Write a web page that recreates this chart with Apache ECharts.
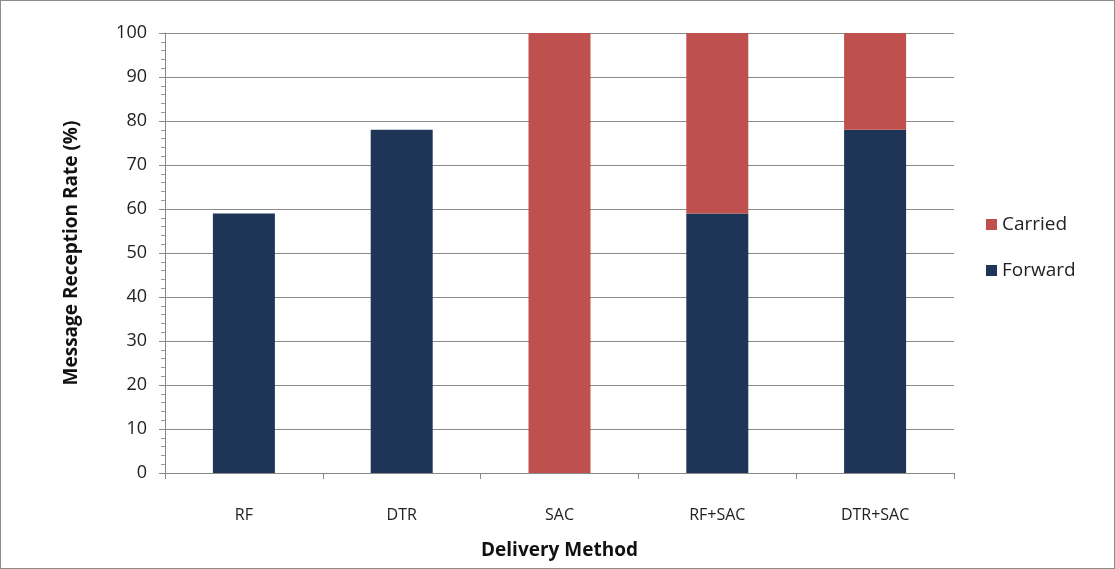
<!DOCTYPE html>
<html>
<head>
<meta charset="utf-8">
<script src="https://cdn.jsdelivr.net/npm/echarts@6/dist/echarts.min.js"></script>
<style>
  html, body { margin: 0; padding: 0; background: #fff; }
  #chart { width: 1115px; height: 569px; box-sizing: border-box; border: 1px solid #8c8c8c; }
</style>
</head>
<body>
<div id="chart"></div>
<script>
const categories = ["RF", "DTR", "SAC", "RF+SAC", "DTR+SAC"];
const forward = [59, 78, 0, 59, 78];
const carried = [0, 0, 100, 41, 22];
const yTicks = [0, 100, 10];

const chart = echarts.init(document.getElementById("chart"));
const font = "'Open Sans', 'Liberation Sans', sans-serif";
chart.setOption({
  animation: false,
  textStyle: { fontFamily: font },
  grid: { left: 164, right: 160, top: 32, bottom: 95 },
  legend: {
    orient: "vertical",
    left: 980,
    top: 209,
    itemGap: 27,
    itemWidth: 11,
    itemHeight: 11,
    icon: "rect",
    data: ["Carried", "Forward"],
    textStyle: { fontSize: 19, color: "#222", fontFamily: font }
  },
  xAxis: {
    type: "category",
    data: categories,
    name: "Delivery Method",
    nameLocation: "middle",
    nameGap: 68,
    nameTextStyle: { fontSize: 19, fontWeight: "bold", color: "#111" },
    axisLine: { lineStyle: { color: "#888" } },
    axisTick: { show: true, length: 6, lineStyle: { color: "#888" } },
    axisLabel: { fontSize: 16, color: "#222", margin: 34 }
  },
  yAxis: {
    type: "value",
    min: yTicks[0],
    max: yTicks[1],
    interval: yTicks[2],
    name: "Message Reception Rate (%)",
    nameLocation: "middle",
    nameGap: 84,
    nameTextStyle: { fontSize: 19, fontWeight: "bold", color: "#111" },
    axisLine: { show: true, lineStyle: { color: "#888" } },
    axisTick: { show: true, length: 6, lineStyle: { color: "#888" } },
    minorTick: { show: true, splitNumber: 5, length: 4, lineStyle: { color: "#999" } },
    splitLine: { lineStyle: { color: "#8a8a8a", width: 1 } },
    axisLabel: { fontSize: 18, color: "#222", margin: 18 }
  },
  series: [
    {
      name: "Forward",
      type: "bar",
      stack: "total",
      barWidth: 62,
      data: forward,
      itemStyle: { color: "#1F3557" }
    },
    {
      name: "Carried",
      type: "bar",
      stack: "total",
      barWidth: 62,
      data: carried,
      itemStyle: { color: "#C0504D" }
    }
  ]
});
</script>
</body>
</html>
